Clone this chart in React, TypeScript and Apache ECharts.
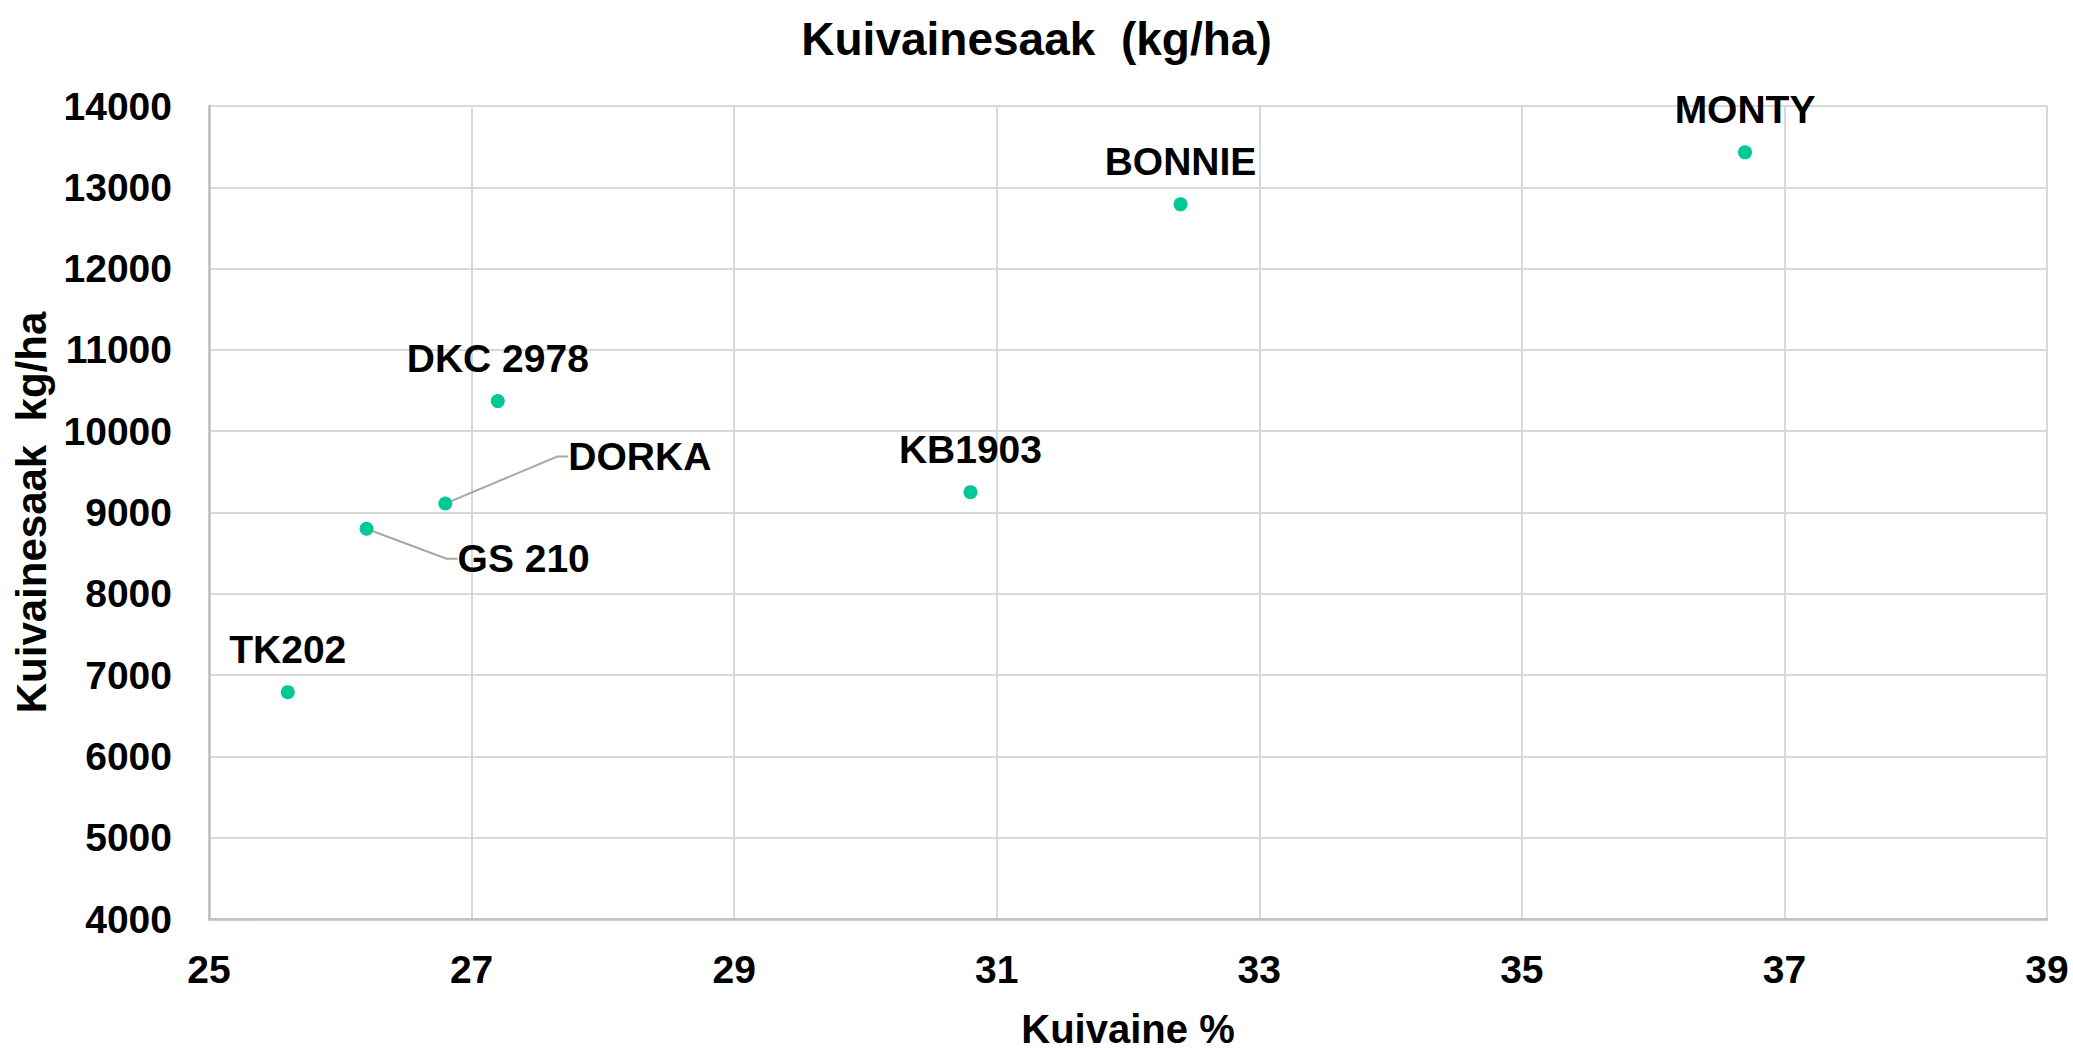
import React, { useEffect, useRef } from 'react';
import * as echarts from 'echarts';

// ---- data ----
const varieties = ['TK202', 'GS 210', 'DORKA', 'DKC 2978', 'KB1903', 'BONNIE', 'MONTY'];
const dryMatterPct = [25.6, 26.2, 26.8, 27.2, 30.8, 32.4, 36.7];
const dryYieldKgHa = [6790, 8800, 9110, 10370, 9250, 12790, 13430];

const xMin = 25;
const xMax = 39;
const xStep = 2;
const yMin = 4000;
const yMax = 14000;
const yStep = 1000;

const titleText = 'Kuivainesaak  (kg/ha)';
const xName = 'Kuivaine %';
const yName = 'Kuivainesaak  kg/ha';

// label placement tweaks (styling only)
const leaderOffsets: Record<string, { dx: number; dy: number }> = {
  DORKA: { dx: 84, dy: -47 },
  'GS 210': { dx: 52, dy: 30 },
};

const FONT = '"Liberation Sans", Arial, Helvetica, sans-serif';
const DOT = '#00C896';

export default function App() {
  const ref = useRef<HTMLDivElement>(null);
  useEffect(() => {
    document.body.style.margin = '0';
    const chart = echarts.init(ref.current!, null, { renderer: 'svg' });
    const data = varieties.map((n, i) => {
      const lead = leaderOffsets[n];
      const item: any = { name: n, value: [dryMatterPct[i], dryYieldKgHa[i]] };
      if (lead) {
        item.label = { position: 'right', padding: [0, 0, 0, 16] };
        item.labelLine = { show: true, length2: 11, lineStyle: { color: '#a6a6a6', width: 2 } };
      }
      return item;
    });
    chart.setOption({
      animation: false,
      backgroundColor: '#ffffff',
      textStyle: { fontFamily: FONT },
      title: {
        text: titleText,
        left: 'center',
        top: 11,
        textStyle: { fontFamily: FONT, fontSize: 46, fontWeight: 'bold', color: '#000' },
      },
      grid: { left: 209, right: 26, top: 106, bottom: 131, containLabel: false, outerBoundsMode: 'none' },
      xAxis: {
        type: 'value',
        min: xMin,
        max: xMax,
        interval: xStep,
        name: xName,
        nameLocation: 'middle',
        nameGap: 90,
        nameTextStyle: { fontFamily: FONT, fontSize: 40, fontWeight: 'bold', color: '#000' },
        axisLine: { show: true, lineStyle: { color: '#bfbfbf', width: 2.5 } },
        axisTick: { show: false },
        axisLabel: { margin: 31, fontFamily: FONT, fontSize: 39, fontWeight: 'bold', color: '#000' },
        splitLine: { show: true, lineStyle: { color: '#d9d9d9', width: 2 } },
      },
      yAxis: {
        type: 'value',
        min: yMin,
        max: yMax,
        interval: yStep,
        name: yName,
        nameLocation: 'middle',
        nameRotate: 90,
        nameGap: 144,
        nameTextStyle: { fontFamily: FONT, fontSize: 42, fontWeight: 'bold', color: '#000' },
        axisLine: { show: true, lineStyle: { color: '#bfbfbf', width: 2.5 } },
        axisTick: { show: false },
        axisLabel: {
          margin: 37,
          fontFamily: FONT,
          fontSize: 39,
          fontWeight: 'bold',
          color: '#000',
          formatter: (v: number) => String(v),
        },
        splitLine: { show: true, lineStyle: { color: '#d9d9d9', width: 2 } },
      },
      series: [
        {
          type: 'scatter',
          symbol: 'circle',
          symbolSize: 14,
          itemStyle: { color: DOT, opacity: 1 },
          label: {
            show: true,
            position: 'top',
            distance: 16,
            formatter: '{b}',
            fontFamily: FONT,
            fontSize: 39,
            fontWeight: 'bold',
            color: '#000000',
            opacity: 1,
            textBorderWidth: 0,
          },
          labelLayout: (params: any) => {
            const o = leaderOffsets[varieties[params.dataIndex]];
            return o ? { dx: o.dx, dy: o.dy } : {};
          },
          data,
        },
      ],
    });
    return () => chart.dispose();
  }, []);
  return <div ref={ref} style={{ width: 2073, height: 1050 }} />;
}
